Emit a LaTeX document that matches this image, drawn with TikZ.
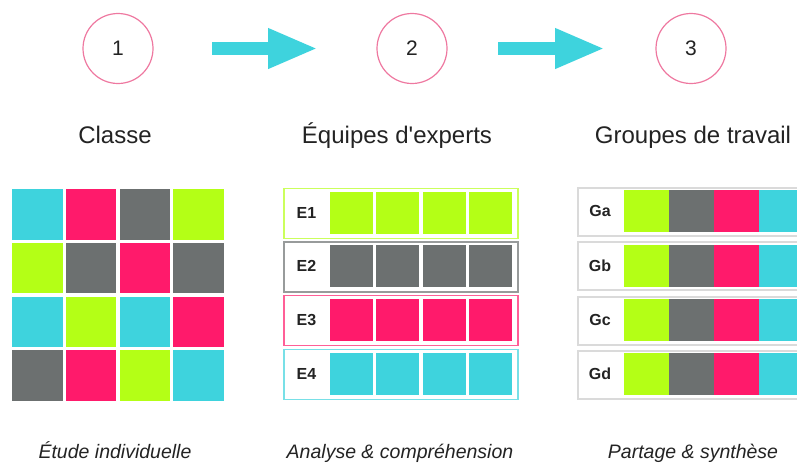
\documentclass[tikz,border=0pt]{standalone}
\usepackage{fontspec}
\setmainfont{Liberation Sans}[Ligatures=TeXOff]
\usetikzlibrary{arrows.meta}
\definecolor{jcyan}{RGB}{62,211,221}
\definecolor{jpink}{RGB}{255,26,107}
\definecolor{jgray}{RGB}{108,112,112}
\definecolor{jlime}{RGB}{180,255,22}
\definecolor{jring}{RGB}{238,120,160}
\definecolor{jtext}{RGB}{35,35,35}
\definecolor{jframe}{RGB}{218,218,218}
\begin{document}
\begin{tikzpicture}[x=1pt,y=-1pt,
  sq/.style={draw=none,inner sep=0pt,minimum width=50.5pt,minimum height=50.5pt,anchor=north west},
  ebox/.style={line width=1.5pt,fill=white,inner sep=0pt,minimum width=234pt,minimum height=50pt,anchor=north west},
  ecell/.style={draw=none,inner sep=0pt,minimum width=43pt,minimum height=42pt,anchor=north west},
  gbox/.style={draw=jframe,line width=2pt,fill=white,inner sep=0pt,minimum width=245pt,minimum height=48pt,anchor=north west},
  gcell/.style={draw=none,inner sep=0pt,minimum width=45pt,minimum height=42pt,anchor=north west},
  elabel/.style={text=jtext,font=\bfseries\fontsize{16}{18}\selectfont,inner sep=0pt},
  ring/.style={circle,draw=jring,line width=1.2pt,minimum size=70pt,inner sep=0pt,text=jtext,font=\fontsize{21}{24}\selectfont},
  title/.style={anchor=base,text=jtext,inner sep=0pt,font=\fontsize{24}{28}\selectfont},
  caption/.style={anchor=base,text=jtext,inner sep=0pt,font=\itshape\fontsize{19.5}{22}\selectfont},
  bigarrow/.style={draw=jcyan,line width=13pt,-{Triangle[length=50pt,width=37pt,fill=jcyan]}}
]
\useasboundingbox (0,0) rectangle (797,464);
\clip (0,0) rectangle (797,464);

% step circles
\node[ring] (c1) at (118,48.5) {1};
\node[ring] (c2) at (412,48.5) {2};
\node[ring] (c3) at (691,48.5) {3};

% arrows
\coordinate (a1s) at (212,48.5);
\coordinate (a1e) at (318,48.5);
\coordinate (a2s) at (498,48.5);
\coordinate (a2e) at (605,48.5);
\draw[bigarrow] (a1s) -- (a1e);
\draw[bigarrow] (a2s) -- (a2e);

% titles
\node[title] (t1) at (115,143) {Classe};
\node[title] (t2) at (397,143) {Équipes d'experts};
\node[title] (t3) at (693,143) {Groupes de travail};

% left grid
\foreach \col [count=\k from 0] in {jcyan,jpink,jgray,jlime,jlime,jgray,jpink,jgray,jcyan,jlime,jcyan,jpink,jgray,jpink,jlime,jcyan}{
  \pgfmathtruncatemacro{\rr}{div(\k,4)}
  \pgfmathtruncatemacro{\cc}{mod(\k,4)}
  \node[sq,fill=\col] (g-\rr-\cc) at ({12+53.7*\cc},{189+53.7*\rr}) {};
}

% expert teams
\foreach \lab/\col [count=\r from 0] in {E1/jlime,E2/jgray,E3/jpink,E4/jcyan}{
  \node[ebox,draw=\col!70] (e\r) at (283,{187.5+53.7*\r}) {};
  \node[elabel] (el\r) at (306.5,{212.5+53.7*\r}) {\lab};
  \foreach \c in {0,...,3}{
    \node[ecell,fill=\col] (e\r-\c) at ({330+46.2*\c},{191.5+53.7*\r}) {};
  }
}

% working groups
\foreach \lab [count=\r from 0] in {Ga,Gb,Gc,Gd}{
  \node[gbox] (w\r) at (577,{187+54.3*\r}) {};
  \node[elabel] (wl\r) at (600,{211+54.3*\r}) {\lab};
  \foreach \col [count=\c from 0] in {jlime,jgray,jpink,jcyan}{
    \node[gcell,fill=\col] (w\r-\c) at ({624+45*\c},{190+54.3*\r}) {};
  }
}

% captions
\node[caption] (k1) at (115,458) {Étude individuelle};
\node[caption] (k2) at (400,458) {Analyse \& compréhension};
\node[caption] (k3) at (693,458) {Partage \& synthèse};
\end{tikzpicture}
\end{document}
